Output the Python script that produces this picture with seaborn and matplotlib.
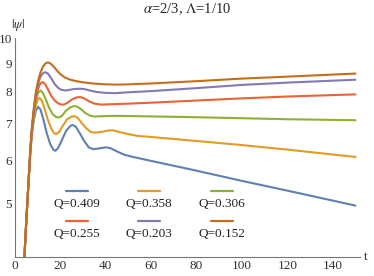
import numpy as np
import pandas as pd
import matplotlib
matplotlib.use('Agg')
import matplotlib.pyplot as plt
from matplotlib.ticker import FixedLocator, FixedFormatter, NullFormatter
import seaborn as sns

# values
labels = ['Q=0.409', 'Q=0.358', 'Q=0.306', 'Q=0.255', 'Q=0.203', 'Q=0.152']
colors = ['#5E81B5', '#E19C24', '#8FB032', '#EB6235', '#8778B3', '#C56E1A']

t_409 = [3.8, 4.2, 5, 6, 6.8, 7.5, 8.3, 9.2, 10.2, 11.2, 12.5, 14, 15.5, 17, 17.8, 19, 20.5,
         22.5, 24.5, 25.5, 26.8, 28.5, 30.5, 32.5, 34.5, 37, 40, 42, 45, 48, 52, 60, 80,
         100, 120, 150]
v_409 = [3.6, 4.03, 4.65, 5.5, 6.2, 6.7, 7.1, 7.38, 7.5, 7.42, 7.12, 6.72, 6.42, 6.26, 6.24,
         6.31, 6.5, 6.78, 6.93, 6.95, 6.9, 6.72, 6.5, 6.33, 6.28, 6.3, 6.33, 6.31, 6.22, 6.14,
         6.08, 5.98, 5.74, 5.5, 5.28, 4.96]

t_358 = [3.8, 4.2, 5, 6, 6.8, 7.5, 8.3, 9.2, 10, 10.8, 11.8, 13, 14.5, 16, 17.2, 18.2, 19.5,
         21, 23, 25, 26.3, 27.5, 29.5, 31.5, 33.5, 35.2, 38, 41, 43, 46, 50, 54, 60, 80, 100,
         120, 150]
v_358 = [3.6, 4.03, 4.65, 5.5, 6.25, 6.8, 7.2, 7.55, 7.72, 7.79, 7.7, 7.45, 7.1, 6.85, 6.72,
         6.69, 6.75, 6.92, 7.12, 7.2, 7.21, 7.17, 7.0, 6.85, 6.75, 6.73, 6.75, 6.79, 6.8, 6.75,
         6.69, 6.64, 6.61, 6.5, 6.39, 6.27, 6.08]

t_306 = [3.8, 4.2, 5, 6, 6.8, 7.5, 8.3, 9.2, 10.2, 11.3, 12.3, 13.5, 15, 16.5, 18, 19.4, 20.8,
         22.5, 24.5, 26, 27.3, 29, 31, 33, 35, 38, 42, 46, 55, 80, 100, 120, 150]
v_306 = [3.6, 4.03, 4.65, 5.5, 6.27, 6.82, 7.3, 7.7, 7.95, 8.03, 7.95, 7.75, 7.48, 7.28, 7.19,
         7.17, 7.23, 7.38, 7.49, 7.52, 7.51, 7.43, 7.31, 7.23, 7.2, 7.21, 7.22, 7.22, 7.21,
         7.18, 7.15, 7.12, 7.09]

t_255 = [3.8, 4.2, 5, 6, 6.8, 7.5, 8.3, 9.2, 10.2, 11.2, 12.2, 13.3, 14.5, 16, 17.5, 19, 20.5,
         21.5, 23, 25, 27, 28.8, 30.5, 32.5, 35, 38, 42, 50, 60, 80, 100, 120, 150]
v_255 = [3.6, 4.03, 4.65, 5.5, 6.28, 6.85, 7.35, 7.8, 8.1, 8.27, 8.32, 8.25, 8.07, 7.85, 7.7,
         7.61, 7.57, 7.57, 7.62, 7.73, 7.8, 7.81, 7.77, 7.68, 7.6, 7.57, 7.58, 7.6, 7.63, 7.7,
         7.77, 7.83, 7.9]

t_203 = [3.8, 4.2, 5, 6, 6.8, 7.5, 8.3, 9.2, 10.2, 11.2, 12.3, 13.4, 14.5, 16, 17.5, 19, 20.5,
         22.2, 24, 26, 28, 30.5, 33, 36, 40, 44, 50, 60, 80, 100, 120, 150]
v_203 = [3.6, 4.03, 4.65, 5.5, 6.29, 6.87, 7.4, 7.9, 8.25, 8.5, 8.63, 8.67, 8.62, 8.45, 8.25,
         8.12, 8.05, 8.03, 8.05, 8.08, 8.09, 8.08, 8.03, 7.98, 7.95, 7.94, 7.97, 8.01, 8.11,
         8.22, 8.3, 8.4]

t_152 = [3.8, 4.2, 5, 6, 6.8, 7.5, 8.3, 9.2, 10.2, 11.2, 12.3, 13.4, 14.5, 15.5, 17, 18.5, 20,
         22, 24.4, 27, 30, 33, 36, 40, 45, 50, 60, 80, 100, 120, 150]
v_152 = [3.6, 4.03, 4.65, 5.5, 6.3, 6.9, 7.45, 7.97, 8.37, 8.65, 8.87, 8.99, 9.03, 9.0, 8.88,
         8.73, 8.6, 8.48, 8.4, 8.35, 8.31, 8.28, 8.26, 8.24, 8.23, 8.24, 8.27, 8.35, 8.44,
         8.51, 8.62]

x_ticks = [0, 20, 40, 60, 80, 100, 120, 140]
y_ticks = [5, 6, 7, 8, 9, 10]

ts = [t_409, t_358, t_306, t_255, t_203, t_152]
vs = [v_409, v_358, v_306, v_255, v_203, v_152]
df = pd.concat([pd.DataFrame({'t': t, 'psi': v, 'Q': lab}) for t, v, lab in zip(ts, vs, labels)],
               ignore_index=True)

sns.set_style('white')
plt.rcParams['font.family'] = ['Liberation Serif', 'DejaVu Serif']
plt.rcParams['mathtext.fontset'] = 'stix'

fig = plt.figure(figsize=(3.74, 2.76), dpi=100)
ax = fig.add_axes([0.040, 0.069, 0.9225, 0.793])

sns.lineplot(data=df, x='t', y='psi', hue='Q', hue_order=labels, palette=colors,
             estimator=None, sort=False, linewidth=1.5, legend=False, ax=ax)

ax.set_yscale('log')
ax.set_xlim(0, 152)
ax.set_ylim(4, 10)

axis_col = '#777777'
for side in ['top', 'right']:
    ax.spines[side].set_visible(False)
for side in ['left', 'bottom']:
    ax.spines[side].set_color(axis_col)
    ax.spines[side].set_linewidth(0.8)

ax.xaxis.set_major_locator(FixedLocator(x_ticks))
ax.xaxis.set_minor_locator(FixedLocator(np.arange(0, 152, 5)))
ax.yaxis.set_major_locator(FixedLocator(y_ticks))
ax.yaxis.set_major_formatter(FixedFormatter([str(y) for y in y_ticks]))
ax.yaxis.set_minor_locator(FixedLocator(np.arange(4.2, 10, 0.2)))
ax.yaxis.set_minor_formatter(NullFormatter())
ax.tick_params(axis='both', which='major', direction='in', length=4, width=0.7,
               color=axis_col, labelsize=9.5, labelcolor='#333333', pad=2)
ax.tick_params(axis='both', which='minor', direction='in', length=2, width=0.6,
               color=axis_col)
ax.set_xlabel('')
ax.set_ylabel('')

ax.set_title(r'$\alpha$=2/3, $\Lambda$=1/10', fontsize=10.5, pad=18)
ax.text(0.008, 1.022, r'$|\psi|$', transform=ax.transAxes, fontsize=9.5, ha='center',
        va='bottom', color='#333333')
ax.text(1.018, 0.0, 't', transform=ax.transAxes, fontsize=9.5, ha='center', va='center',
        color='#333333')

# legend in Mathematica style: short line above each label
col_x = [0.180, 0.388, 0.600]
row_line_y = [0.301, 0.164]
row_text_y = [0.243, 0.106]
for i, (lab, col) in enumerate(zip(labels, colors)):
    r, c = divmod(i, 3)
    ax.plot([col_x[c] - 0.031, col_x[c] + 0.031], [row_line_y[r]] * 2, color=col,
            linewidth=1.6, transform=ax.transAxes, clip_on=False)
    ax.text(col_x[c], row_text_y[r], lab, transform=ax.transAxes, fontsize=9.5,
            ha='center', va='center', color='#222222')

fig.savefig('out.png', dpi=100)
